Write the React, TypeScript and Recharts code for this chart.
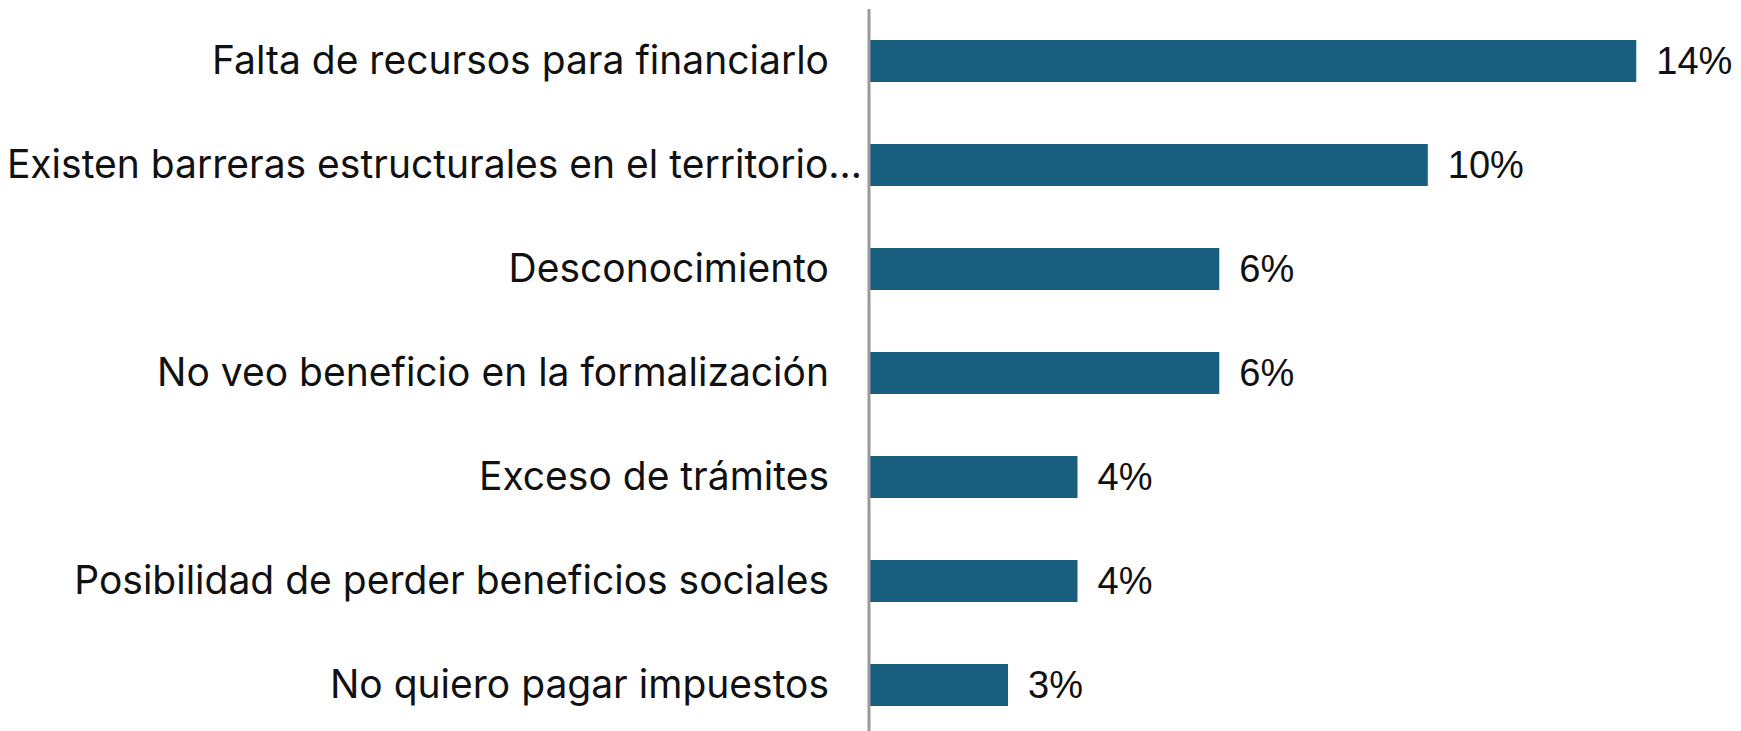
import React from "react";
import { BarChart, Bar, XAxis, YAxis, LabelList } from "recharts";

const categories = [
  "Falta de recursos para financiarlo",
  "Existen barreras estructurales en el territorio…",
  "Desconocimiento",
  "No veo beneficio en la formalización",
  "Exceso de trámites",
  "Posibilidad de perder beneficios sociales",
  "No quiero pagar impuestos",
];
const values = [13.8, 10.05, 6.3, 6.3, 3.75, 3.75, 2.5];
const valueLabels = ["14%", "10%", "6%", "6%", "4%", "4%", "3%"];

const data = categories.map((c, i) => ({ name: c, value: values[i], label: valueLabels[i] }));

const CatTick = (props: any) => {
  const { x, y, payload } = props;
  const text: string = payload.value;
  const long = text.endsWith("…");
  return (
    <text
      x={long ? x + 1 : x - 32}
      y={y}
      dy={13}
      textAnchor="end"
      fontSize={39}
      fontFamily="Inter, Roboto, sans-serif"
      fill="#111"
    >
      {text}
    </text>
  );
};

export default function App() {
  return (
    <div style={{ position: "fixed", left: 0, top: 0, width: 1741, height: 731, overflow: "hidden", background: "#fff" }}>
      <BarChart
        width={1741}
        height={740}
        data={data}
        layout="vertical"
        margin={{ top: 9, right: 38, bottom: 3, left: 0 }}
      >
        <XAxis type="number" domain={[0, 15]} hide />
        <YAxis
          type="category"
          dataKey="name"
          width={869}
          axisLine={{ stroke: "#9a9a9a", strokeWidth: 3 }}
          tickLine={false}
          tick={<CatTick />}
          interval={0}
        />
        <Bar dataKey="value" fill="#185f7f" barSize={42} isAnimationActive={false}>
          <LabelList
            dataKey="label"
            position="right"
            offset={20}
            fill="#111"
            fontSize={38}
            fontFamily="'Liberation Sans', Arial, sans-serif"
          />
        </Bar>
      </BarChart>
    </div>
  );
}
